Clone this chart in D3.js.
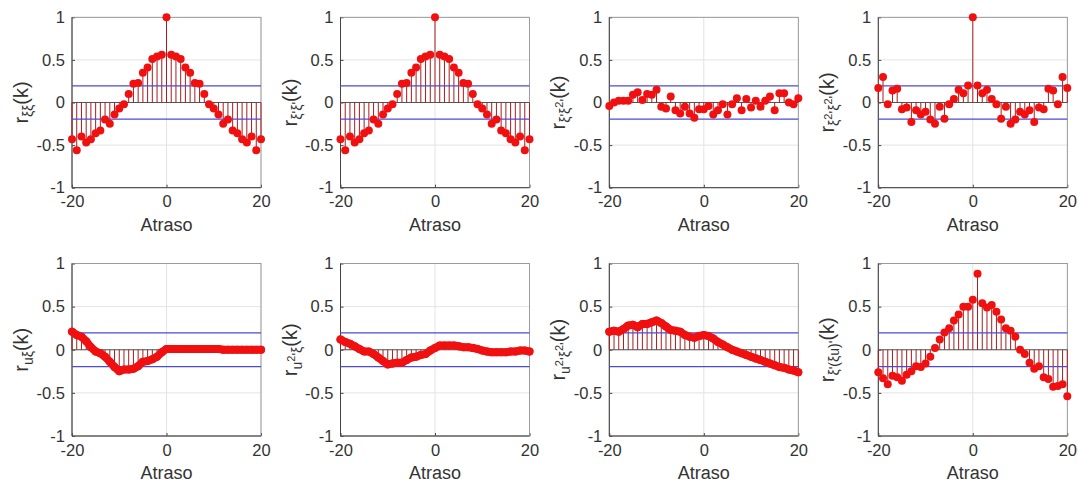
<!DOCTYPE html>
<html>
<head>
<meta charset="utf-8">
<script src="https://cdn.jsdelivr.net/npm/d3@7"></script>
<style>
    body { margin: 0; background: #fff; }
    svg text { font-family: "Liberation Sans", Arial, sans-serif; fill: #333; }
</style>
</head>
<body>
<div class="graph_container"></div>
<script>
//^ DATA //
const lags = d3.range(-20, 21);
const xTicks = [-20, 0, 20];
const yTicks = [-1, -0.5, 0, 0.5, 1];
const confBound = 0.196;

const r_xx = [-0.43, -0.56, -0.40, -0.47, -0.43, -0.36, -0.33, -0.20, -0.25, -0.14, -0.07, -0.02, 0.10, 0.22, 0.23, 0.35, 0.41, 0.51, 0.54, 0.56,
    1.0, 0.56, 0.54, 0.51, 0.41, 0.35, 0.23, 0.22, 0.10, -0.02, -0.07, -0.14, -0.25, -0.20, -0.33, -0.36, -0.43, -0.47, -0.40, -0.56, -0.43];
const r_xpxp = [-0.43, -0.56, -0.40, -0.47, -0.43, -0.36, -0.33, -0.20, -0.25, -0.14, -0.07, -0.02, 0.10, 0.22, 0.23, 0.35, 0.41, 0.51, 0.54, 0.56,
    1.0, 0.56, 0.54, 0.51, 0.41, 0.35, 0.23, 0.22, 0.10, -0.02, -0.07, -0.14, -0.25, -0.20, -0.33, -0.36, -0.43, -0.47, -0.40, -0.56, -0.43];
const r_xpx2p = [-0.04, 0.0, 0.02, 0.02, 0.02, 0.09, 0.12, 0.03, 0.10, 0.09, 0.15, -0.05, -0.07, 0.07, -0.09, -0.13, -0.05, -0.13, -0.18, -0.08,
    -0.08, -0.04, -0.14, -0.09, -0.02, -0.14, -0.02, 0.05, -0.09, 0.04, -0.06, 0.02, -0.05, 0.02, 0.07, -0.09, 0.11, 0.11, 0.0, -0.02, 0.05];
const r_x2px2p = [0.17, 0.30, -0.02, 0.14, 0.16, -0.08, -0.06, -0.23, -0.09, -0.14, -0.11, -0.20, -0.25, -0.05, -0.19, -0.02, 0.04, 0.15, 0.11, 0.20,
    1.0, 0.20, 0.11, 0.15, 0.04, -0.02, -0.19, -0.05, -0.25, -0.20, -0.11, -0.14, -0.09, -0.23, -0.06, -0.08, 0.16, 0.14, -0.02, 0.30, 0.17];
const r_ux = [0.21, 0.17, 0.15, 0.10, 0.03, -0.02, -0.04, -0.08, -0.14, -0.20, -0.25, -0.23, -0.23, -0.22, -0.19, -0.14, -0.13, -0.11, -0.08, -0.03,
    0.01, 0.01, 0.01, 0.01, 0.01, 0.01, 0.01, 0.01, 0.01, 0.01, 0.01, 0.01, 0.0, 0.0, 0.0, 0.0, 0.0, 0.0, 0.0, 0.0, 0.0];
const r_u2px = [0.12, 0.09, 0.07, 0.04, 0.01, -0.02, -0.02, -0.05, -0.09, -0.13, -0.17, -0.16, -0.15, -0.15, -0.12, -0.09, -0.08, -0.06, -0.05, -0.01,
    0.02, 0.05, 0.05, 0.05, 0.05, 0.04, 0.03, 0.03, 0.02, 0.01, -0.01, -0.02, -0.03, -0.03, -0.03, -0.03, -0.02, -0.02, -0.01, -0.01, -0.02];
const r_u2px2p = [0.21, 0.22, 0.21, 0.24, 0.28, 0.29, 0.26, 0.30, 0.30, 0.32, 0.34, 0.31, 0.27, 0.23, 0.22, 0.21, 0.17, 0.15, 0.14, 0.16,
    0.17, 0.16, 0.13, 0.09, 0.06, 0.03, 0.0, -0.02, -0.04, -0.06, -0.08, -0.10, -0.12, -0.14, -0.16, -0.18, -0.20, -0.21, -0.23, -0.24, -0.26];
const r_xpxup = [-0.26, -0.33, -0.40, -0.30, -0.32, -0.36, -0.29, -0.25, -0.19, -0.20, -0.16, -0.08, 0.02, 0.12, 0.20, 0.25, 0.34, 0.41, 0.50, 0.50,
    0.58, 0.88, 0.54, 0.49, 0.52, 0.44, 0.35, 0.25, 0.22, 0.15, 0.0, -0.05, -0.15, -0.22, -0.19, -0.32, -0.34, -0.43, -0.42, -0.40, -0.54];

//^ Y LABELS (b = base, s = subscript, ss = superscript on subscript) //
const labels = [
    [["r", "b"], ["ξξ", "s"], ["(k)", "b"]],
    [["r", "b"], ["ξ'ξ'", "s"], ["(k)", "b"]],
    [["r", "b"], ["ξ'ξ", "s"], ["2", "ss"], ["'", "s"], ["(k)", "b"]],
    [["r", "b"], ["ξ", "s"], ["2", "ss"], ["'ξ", "s"], ["2", "ss"], ["'", "s"], ["(k)", "b"]],
    [["r", "b"], ["uξ", "s"], ["(k)", "b"]],
    [["r", "b"], ["u", "s"], ["2", "ss"], ["'ξ", "s"], ["(k)", "b"]],
    [["r", "b"], ["u", "s"], ["2", "ss"], ["'ξ", "s"], ["2", "ss"], ["'", "s"], ["(k)", "b"]],
    [["r", "b"], ["ξ'(ξu)'", "s"], ["(k)", "b"]],
];
const series = [r_xx, r_xpxp, r_xpx2p, r_x2px2p, r_ux, r_u2px, r_u2px2p, r_xpxup];
const dense = [false, false, false, false, true, true, true, false];

//^ LAYOUT //
const colLeft = [72, 340.5, 609.3, 878.3];
const plotW = 189;
const rowTop = [17.3, 263.5];
const rowBottom = [187.7, 436];
const labSize = { b: 20, s: 14, ss: 11 };
const labOff = { b: 0, s: 5, ss: -2 };

const svg = d3.select(".graph_container").append("svg").attr("width", 1078).attr("height", 489);

series.forEach((vals, i) => {
    const row = Math.floor(i / 4);
    const left = colLeft[i % 4];
    const top = rowTop[row];
    const bottom = rowBottom[row];
    const x = d3.scaleLinear().domain([-20, 20]).range([left, left + plotW]);
    const y = d3.scaleLinear().domain([-1, 1]).range([bottom, top]);
    const data = lags.map((k, j) => ({ k: k, v: vals[j] }));
    const g = svg.append("g");

    //^ GRID //
    g.selectAll(".gy").data(yTicks).enter().append("line")
        .attr("x1", x(-20)).attr("x2", x(20)).attr("y1", (d) => y(d)).attr("y2", (d) => y(d))
        .attr("stroke", "#e3e3e3");
    g.selectAll(".gx").data(xTicks).enter().append("line")
        .attr("x1", (d) => x(d)).attr("x2", (d) => x(d)).attr("y1", top).attr("y2", bottom)
        .attr("stroke", "#e3e3e3");

    //^ AXES //
    const yAxis = g.append("g").attr("transform", "translate(" + left + ",0)")
        .call(d3.axisLeft(y).tickValues(yTicks).tickSize(-3).tickPadding(7).tickFormat((d) => String(d)));
    const xAxis = g.append("g").attr("transform", "translate(0," + bottom + ")")
        .call(d3.axisBottom(x).tickValues(xTicks).tickSize(-3).tickPadding(8).tickFormat((d) => String(d)));
    [yAxis, xAxis].forEach((a) => {
        a.attr("font-size", 16.5).attr("font-family", null);
        a.select(".domain").remove();
        a.selectAll(".tick line").attr("stroke", "#444");
        a.selectAll(".tick text").attr("fill", "#333");
    });

    //^ BOX //
    g.append("rect").attr("x", left).attr("y", top).attr("width", plotW).attr("height", bottom - top)
        .attr("fill", "none").attr("stroke", "#8a8a8a").attr("stroke-width", 0.8);
    g.append("path").attr("d", `M${left},${top}V${bottom}H${left + plotW}`)
        .attr("fill", "none").attr("stroke", "#444").attr("stroke-width", 1);

    //^ BASELINE + STEMS //
    g.append("line").attr("x1", x(-20)).attr("x2", x(20)).attr("y1", y(0)).attr("y2", y(0))
        .attr("stroke", "#555").attr("stroke-width", 1);
    g.selectAll(".stem").data(data).enter().append("line")
        .attr("x1", (d) => x(d.k)).attr("x2", (d) => x(d.k))
        .attr("y1", y(0)).attr("y2", (d) => y(d.v))
        .attr("stroke", "#a81c1c").attr("stroke-width", 1);

    //^ CONFIDENCE BOUNDS //
    [confBound, -confBound].forEach((c) => {
        g.append("line").attr("x1", x(-20)).attr("x2", x(20)).attr("y1", y(c)).attr("y2", y(c))
            .attr("stroke", "#4b4bd8").attr("stroke-width", 1.2);
    });

    //^ MARKERS //
    if (dense[i]) {
        g.append("path").datum(data)
            .attr("d", d3.line().x((d) => x(d.k)).y((d) => y(d.v)))
            .attr("fill", "none").attr("stroke", "#f01010").attr("stroke-width", 8)
            .attr("stroke-linecap", "round").attr("stroke-linejoin", "round");
    }
    g.selectAll(".dot").data(data).enter().append("circle")
        .attr("cx", (d) => x(d.k)).attr("cy", (d) => y(d.v)).attr("r", 4)
        .attr("fill", "#f01010");

    //^ LABELS //
    g.append("text").attr("x", (left + left + plotW) / 2).attr("y", bottom + 43)
        .attr("text-anchor", "middle").attr("font-size", 18).text("Atraso");
    const lab = g.append("text")
        .attr("transform", "translate(" + (left - 44) + "," + (top + bottom) / 2 + ") rotate(-90)")
        .attr("text-anchor", "middle").attr("font-size", 20);
    let cur = 0;
    labels[i].forEach(([t, s]) => {
        lab.append("tspan").attr("font-size", labSize[s]).attr("dy", labOff[s] - cur).text(t);
        cur = labOff[s];
    });
});
</script>
</body>
</html>
